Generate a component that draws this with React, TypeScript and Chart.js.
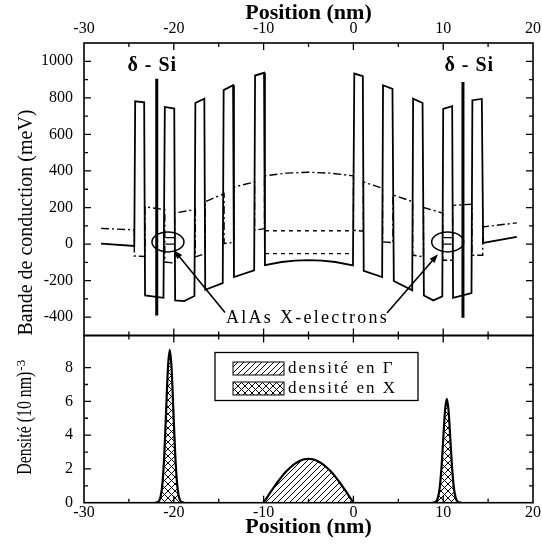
import React, { useEffect, useRef } from 'react';
import { Chart, registerables } from 'chart.js';
Chart.register(...registerables);

const FONT = "'Liberation Serif', 'Times New Roman', serif";

// ---------- Upper panel: conduction band profile (meV) vs position (nm) ----------
const gammaX = [-28.1, -24.4, -24.3, -23.3, -23.2, -21.15, -21.0, -19.95, -19.85, -18.85, -17.7, -17.6, -16.6, -16.5, -14.55, -14.45, -13.4, -13.3, -11.05, -10.95, -9.95, -9.85, -8, -6.5, -5, -3.5, -2, -0.05, 0.1, 1.05, 1.15, 3.2, 3.3, 4.35, 4.5, 6.55, 6.65, 7.7, 7.85, 8.9, 9.9, 10.0, 11.0, 11.1, 13.15, 13.25, 14.3, 14.45, 18.2];
const gammaE = [3, -10, 781, 776, -281, -294, 750, 741, -308, -312, -284, 772, 796, -250, -213, 842, 869, -180, -143, 922, 937, -115, -98, -90, -88, -90, -98, -116, 933, 919, -147, -180, 869, 849, -202, -253, 796, 772, -281, -308, -286, 740, 754, -294, -268, 787, 794, 7, 40];

const xBandX = [-28.1, -24.4, -24.4, -23.2, -23.2, -21.0, -21.0, -19.9, -19.9, -17.6, -17.6, -16.5, -16.5, -14.4, -14.4, -13.3, -13.3, -11.0, -11.0, -9.9, -9.9, -7.5, -5, -2.5, 0, 0, 1.1, 1.1, 3.25, 3.25, 4.4, 4.4, 6.6, 6.6, 7.8, 7.8, 9.95, 9.95, 11.05, 11.05, 13.2, 13.2, 14.4, 14.4, 18.2];
const xBandE = [86, 78, -65, -68, 204, 188, -98, -104, 170, 190, -70, -52, 232, 276, 3, 10, 312, 340, 76, 84, 373, 388, 393, 388, 373, 76, 70, 340, 305, 12, 8, 269, 232, -60, -70, 200, 170, -88, -88, 212, 218, -61, -61, 94, 116];

const levelX = [-9.85, 0.05];
const levelE = [73, -52];

const deltaX = [-21.9, 12.2];
const deltaTopE = [904, 886];
const deltaBottomE = [-391, -403];
const deltaLabel = 'δ - Si';
const deltaLabelX = [-22.4, 12.9];
const deltaLabelE = 975;

const ellipseX = [-20.65, 10.5];
const ellipseE = [12, 12];
const barStartX = [-20.95, 10.05];
const barEndX = [-19.95, 10.95];
const barE = [35, 0];

const arrowTailX = [-14.3, 3.74];
const arrowTailE = [-374, -377];
const arrowTipX = [-19.98, 9.42];
const arrowTipE = [-33, -55];
const noteText = 'AlAs X-electrons';
const noteX = -14.2;
const noteE = -407;

// ---------- Lower panel: densities ----------
const densGammaX = [-10, -9.5, -9, -8.5, -8, -7.5, -7, -6.5, -6, -5.5, -5, -4.5, -4, -3.5, -3, -2.5, -2, -1.5, -1, -0.5, 0];
const densGammaY = [0, 0.41, 0.8, 1.18, 1.53, 1.84, 2.1, 2.31, 2.47, 2.57, 2.6, 2.57, 2.47, 2.31, 2.1, 1.84, 1.53, 1.18, 0.8, 0.41, 0];
const densXLeftX = [-22.05, -21.85, -21.65, -21.45, -21.25, -21.05, -20.85, -20.65, -20.45, -20.25, -20.05, -19.85, -19.65, -19.45, -19.25, -19.05, -18.85];
const densXLeftY = [0, 0.02, 0.1, 0.4, 1.22, 2.94, 5.49, 7.99, 9.05, 7.99, 5.49, 2.94, 1.22, 0.4, 0.1, 0.02, 0];
const densXRightX = [8.8, 9.0, 9.2, 9.4, 9.6, 9.8, 10.0, 10.2, 10.4, 10.6, 10.8, 11.0, 11.2, 11.4, 11.6, 11.8, 12.0];
const densXRightY = [0, 0.01, 0.07, 0.27, 0.83, 2.0, 3.73, 5.43, 6.15, 5.43, 3.73, 2.0, 0.83, 0.27, 0.07, 0.01, 0];
const legendLabels = ['densité en Γ', 'densité en X'];

const xTitle = 'Position (nm)';
const yTitleTop = 'Bande de conduction (meV)';
const yTitleBottom = 'Densité (10 nm)';
const yTitleBottomSup = '-3';

const pts = (xs: number[], ys: number[]) => xs.map((x, i) => ({ x, y: ys[i] }));

function makePattern(cross: boolean, s: number) {
  const c = document.createElement('canvas');
  c.width = s; c.height = s;
  const g = c.getContext('2d')!;
  g.strokeStyle = '#000';
  g.lineWidth = 1;
  g.beginPath();
  g.moveTo(-1, s + 1); g.lineTo(s + 1, -1);
  if (cross) { g.moveTo(-1, -1); g.lineTo(s + 1, s + 1); }
  g.stroke();
  return g.createPattern(c, 'repeat')!;
}

const noPad = (s: any) => { s.paddingTop = 0; s.paddingBottom = 0; s.paddingLeft = 0; s.paddingRight = 0; };

const frameTicks = {
  id: 'frameTicks',
  afterDraw(chart: any) {
    const { ctx, chartArea: a } = chart;
    const xs = chart.scales.x, ys = chart.scales.y;
    ctx.save();
    ctx.strokeStyle = '#000';
    ctx.lineWidth = 1.6;
    ctx.strokeRect(a.left, a.top, a.right - a.left, a.bottom - a.top);
    ctx.lineWidth = 1.3;
    ctx.beginPath();
    for (const t of xs.ticks) {
      const px = xs.getPixelForValue(t.value);
      if (px < a.left + 1 || px > a.right - 1) continue;
      const len = t.label !== '' ? 7 : 4;
      ctx.moveTo(px, a.top); ctx.lineTo(px, a.top + len);
      ctx.moveTo(px, a.bottom); ctx.lineTo(px, a.bottom - len);
    }
    for (const t of ys.ticks) {
      const py = ys.getPixelForValue(t.value);
      if (py < a.top + 1 || py > a.bottom - 1) continue;
      const len = t.label !== '' ? 7 : 4;
      ctx.moveTo(a.left, py); ctx.lineTo(a.left + len, py);
      ctx.moveTo(a.right, py); ctx.lineTo(a.right - len, py);
    }
    ctx.stroke();
    ctx.restore();
  },
};

const upperNotes = {
  id: 'upperNotes',
  afterDatasetsDraw(chart: any) {
    const { ctx } = chart;
    const xs = chart.scales.x, ys = chart.scales.y;
    const X = (v: number) => xs.getPixelForValue(v);
    const Y = (v: number) => ys.getPixelForValue(v);
    ctx.save();
    ctx.strokeStyle = '#000';
    ctx.fillStyle = '#000';
    ctx.lineWidth = 1.5;
    ellipseX.forEach((ex, i) => {
      ctx.beginPath();
      ctx.ellipse(X(ex), Y(ellipseE[i]), 16, 10, 0, 0, Math.PI * 2);
      ctx.stroke();
    });
    ctx.lineWidth = 1.6;
    arrowTailX.forEach((tx, i) => {
      const x0 = X(tx), y0 = Y(arrowTailE[i]);
      const x1 = X(arrowTipX[i]), y1 = Y(arrowTipE[i]);
      const ang = Math.atan2(y1 - y0, x1 - x0);
      const c = Math.cos(ang), s = Math.sin(ang);
      ctx.beginPath();
      ctx.moveTo(x0, y0);
      ctx.lineTo(x1 - 6 * c, y1 - 6 * s);
      ctx.stroke();
      ctx.beginPath();
      ctx.moveTo(x1, y1);
      ctx.lineTo(x1 - 9 * c + 3.2 * s, y1 - 9 * s - 3.2 * c);
      ctx.lineTo(x1 - 9 * c - 3.2 * s, y1 - 9 * s + 3.2 * c);
      ctx.closePath();
      ctx.fill();
    });
    ctx.font = `bold 20px ${FONT}`;
    (ctx as any).letterSpacing = '1px';
    ctx.textAlign = 'center';
    ctx.textBaseline = 'middle';
    deltaLabelX.forEach((lx) => ctx.fillText(deltaLabel, X(lx), Y(deltaLabelE)));
    ctx.font = `18px ${FONT}`;
    (ctx as any).letterSpacing = '2.3px';
    ctx.textAlign = 'left';
    ctx.fillText(noteText, X(noteX), Y(noteE));
    (ctx as any).letterSpacing = '0px';
    ctx.restore();
  },
};

function lowerNotes(patG: CanvasPattern, patX: CanvasPattern) {
  return {
    id: 'lowerNotes',
    afterDraw(chart: any) {
      const { ctx, chartArea: a } = chart;
      ctx.save();
      ctx.translate(26, a.bottom - 28);
      ctx.rotate(-Math.PI / 2);
      ctx.fillStyle = '#000';
      ctx.textAlign = 'left';
      ctx.textBaseline = 'middle';
      ctx.font = `20px ${FONT}`;
      ctx.fillText(yTitleBottom, 0, 0, 103);
      ctx.font = `13px ${FONT}`;
      ctx.fillText(yTitleBottomSup, 104, -4);
      ctx.restore();

      ctx.save();
      const lx = a.left + 131, ly = a.top + 17, lw = 203, lh = 48;
      ctx.fillStyle = '#fff';
      ctx.fillRect(lx, ly, lw, lh);
      ctx.strokeStyle = '#000';
      ctx.lineWidth = 1.3;
      ctx.strokeRect(lx, ly, lw, lh);
      const pats = [patG, patX];
      const rows = [ly + 9.5, ly + 29.5];
      ctx.font = `17px ${FONT}`;
      (ctx as any).letterSpacing = '2px';
      ctx.textAlign = 'left';
      ctx.textBaseline = 'middle';
      rows.forEach((ry, i) => {
        ctx.fillStyle = pats[i];
        ctx.fillRect(lx + 18, ry, 51, 13);
        ctx.lineWidth = 1;
        ctx.strokeRect(lx + 18, ry, 51, 13);
        ctx.fillStyle = '#000';
        ctx.fillText(legendLabels[i], lx + 73, ry + 7);
      });
      (ctx as any).letterSpacing = '0px';
      ctx.restore();
    },
  };
}

function App() {
  const topRef = useRef<HTMLCanvasElement>(null);
  const botRef = useRef<HTMLCanvasElement>(null);

  useEffect(() => {
    Chart.defaults.font.family = FONT;
    Chart.defaults.color = '#000';

    const deltaData: any[] = [];
    deltaX.forEach((x, i) => {
      deltaData.push({ x, y: deltaBottomE[i] }, { x, y: deltaTopE[i] }, { x, y: null });
    });
    const levelData: any[] = [];
    levelE.forEach((e) => {
      levelData.push({ x: levelX[0], y: e }, { x: levelX[1], y: e }, { x: levelX[1], y: null });
    });
    const barData: any[] = [];
    barStartX.forEach((sx, i) => {
      barE.forEach((e) => {
        barData.push({ x: sx, y: e }, { x: barEndX[i], y: e }, { x: barEndX[i], y: null });
      });
    });

    const c1 = new Chart(topRef.current!, {
      type: 'line',
      data: {
        datasets: [
          { label: 'δ-Si', data: deltaData, borderWidth: 3, borderColor: '#000' },
          { label: 'Γ', data: pts(gammaX, gammaE), borderWidth: 1.8, borderColor: '#000' },
          { label: 'X', data: pts(xBandX, xBandE), borderWidth: 1.4, borderColor: '#000', borderDash: [8, 3, 2, 3] },
          { label: 'niveaux', data: levelData, borderWidth: 1.4, borderColor: '#000', borderDash: [4, 4] },
          { label: 'X-electrons', data: barData, borderWidth: 1.3, borderColor: '#000' },
        ] as any,
      },
      options: {
        animation: false,
        responsive: false,
        events: [],
        layout: { padding: { left: 0, right: 9, top: 0, bottom: 4.5 } },
        elements: { point: { radius: 0 }, line: { tension: 0, fill: false } },
        plugins: { legend: { display: false }, tooltip: { enabled: false } },
        scales: {
          x: {
            type: 'linear', position: 'top', min: -30, max: 20,
            grid: { display: false, drawTicks: false }, border: { display: false },
            ticks: { stepSize: 5, autoSkip: false, maxRotation: 0, padding: 5, font: { size: 16 },
              callback: (v: any) => (v % 10 === 0 ? String(v) : '') },
            title: { display: true, text: xTitle, font: { size: 22, weight: 'bold' }, padding: { top: 0, bottom: 0 } },
            afterFit: (s: any) => { s.height = 43; noPad(s); },
          },
          y: {
            type: 'linear', min: -500, max: 1100,
            grid: { display: false, drawTicks: false }, border: { display: false },
            ticks: { stepSize: 100, autoSkip: false, padding: 11, font: { size: 16 },
              callback: (v: any) => (v % 200 === 0 && v >= -400 && v <= 1000 ? String(v) : '') },
            title: { display: true, text: yTitleTop, align: 'start', font: { size: 20 }, padding: { top: 14.5, bottom: 0 } },
            afterFit: (s: any) => { s.width = 84; noPad(s); },
          },
        },
      } as any,
      plugins: [frameTicks, upperNotes],
    });

    const patG = makePattern(false, 6);
    const patX = makePattern(true, 7);

    const c2 = new Chart(botRef.current!, {
      type: 'line',
      data: {
        datasets: [
          { label: legendLabels[0], data: pts(densGammaX, densGammaY), borderWidth: 2.2, borderColor: '#000', backgroundColor: patG, fill: 'origin', cubicInterpolationMode: 'monotone' },
          { label: legendLabels[1], data: pts(densXLeftX, densXLeftY), borderWidth: 2.2, borderColor: '#000', backgroundColor: patX, fill: 'origin', cubicInterpolationMode: 'monotone' },
          { label: legendLabels[1], data: pts(densXRightX, densXRightY), borderWidth: 2.2, borderColor: '#000', backgroundColor: patX, fill: 'origin', cubicInterpolationMode: 'monotone' },
        ] as any,
      },
      options: {
        animation: false,
        responsive: false,
        events: [],
        layout: { padding: { left: 0, right: 9, top: 5.5, bottom: 0 } },
        elements: { point: { radius: 0 } },
        plugins: { legend: { display: false }, tooltip: { enabled: false } },
        scales: {
          x: {
            type: 'linear', position: 'bottom', min: -30, max: 20,
            grid: { display: false, drawTicks: false }, border: { display: false },
            ticks: { stepSize: 5, autoSkip: false, maxRotation: 0, padding: 0, font: { size: 16 },
              callback: (v: any) => (v % 10 === 0 ? String(v) : '') },
            title: { display: true, text: xTitle, font: { size: 22, weight: 'bold' }, padding: { top: 0, bottom: 3.8 } },
            afterFit: (s: any) => { s.height = 41.3; noPad(s); },
          },
          y: {
            type: 'linear', min: 0, max: 9.9,
            grid: { display: false, drawTicks: false }, border: { display: false },
            ticks: { stepSize: 1, autoSkip: false, padding: 11, font: { size: 16 },
              callback: (v: any) => (Number.isInteger(v) && v % 2 === 0 ? String(v) : '') },
            afterFit: (s: any) => { s.width = 84; noPad(s); },
          },
        },
      } as any,
      plugins: [frameTicks, lowerNotes(patG, patX)],
    });

    return () => { c1.destroy(); c2.destroy(); };
  }, []);

  return (
    <div style={{ position: 'absolute', left: 0, top: 0, width: 542, height: 544, background: '#fff' }}>
      <canvas ref={topRef} width={542} height={340} style={{ position: 'absolute', left: 0, top: 0, width: 542, height: 340 }} />
      <canvas ref={botRef} width={542} height={214} style={{ position: 'absolute', left: 0, top: 330, width: 542, height: 214 }} />
    </div>
  );
}

export default App;
